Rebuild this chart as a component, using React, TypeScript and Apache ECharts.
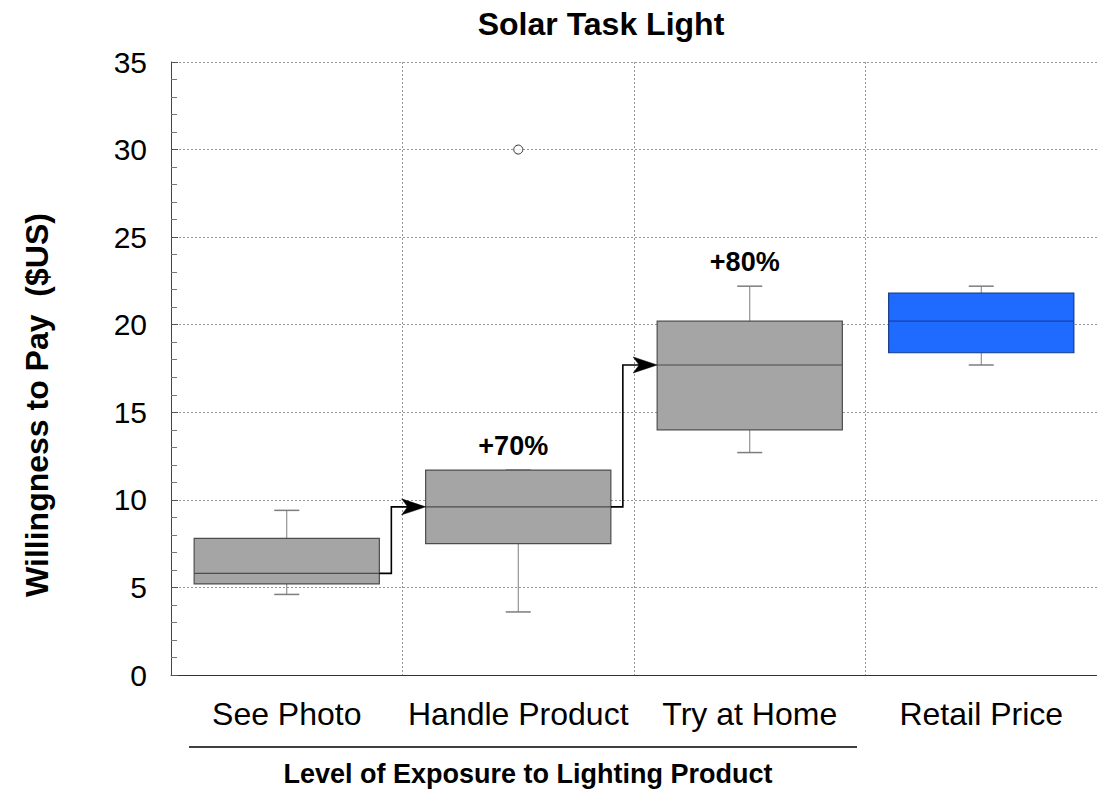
import React, { useEffect, useRef } from 'react';
import * as echarts from 'echarts';

const categories = ['See Photo', 'Handle Product', 'Try at Home', 'Retail Price'];
const whiskerLow = [4.6, 3.6, 12.7, 17.7];
const quartile1 = [5.2, 7.5, 14.0, 18.4];
const medians = [5.8, 9.6, 17.7, 20.2];
const quartile3 = [7.8, 11.7, 20.2, 21.8];
const whiskerHigh = [9.4, 11.7, 22.2, 22.2];
const outlierCats = [1];
const outlierValues = [30];
const changeLabels = ['+70%', '+80%'];
const changeLabelCats = [1, 2];
const changeLabelValues = [13.1, 23.6];
const arrowFrom = [0, 1];
const arrowTo = [1, 2];

const FONT = '"Liberation Sans", Arial, Helvetica, sans-serif';

export default function App() {
  const ref = useRef<HTMLDivElement>(null);
  useEffect(() => {
    if (!ref.current) return;
    const chart = echarts.init(ref.current, null, { renderer: 'svg' });

    const boxData = categories.map((_, i) => [i, whiskerLow[i], quartile1[i], medians[i], quartile3[i], whiskerHigh[i]]);
    const arrowData = arrowFrom.map((f, i) => [f, medians[f], arrowTo[i], medians[arrowTo[i]]]);
    const labelData = changeLabels.map((_, i) => [changeLabelCats[i], changeLabelValues[i], i]);
    const outlierData = outlierCats.map((c, i) => [c, outlierValues[i]]);

    const option: any = {
      animation: false,
      backgroundColor: '#ffffff',
      grid: { left: 171, right: -5, top: 62, bottom: 115, containLabel: false },
      xAxis: {
        type: 'category',
        data: categories,
        boundaryGap: true,
        axisLine: { show: true, lineStyle: { color: '#333', width: 1 } },
        axisTick: { show: false },
        axisLabel: { color: '#000', fontSize: 32, fontFamily: FONT, margin: 23, interval: 0 },
        splitLine: { show: true, lineStyle: { color: '#999', type: [2, 2], width: 1 } },
      },
      yAxis: {
        type: 'value',
        min: 0,
        max: 35,
        interval: 5,
        axisLine: { show: true, lineStyle: { color: '#444', width: 1 } },
        axisTick: { show: true, inside: true, length: 7, lineStyle: { color: '#555' } },
        minorTick: { show: true, splitNumber: 5, length: 6, lineStyle: { color: '#777' } },
        axisLabel: { color: '#000', fontSize: 30, fontFamily: FONT, margin: 24 },
        splitLine: { show: true, lineStyle: { color: '#999', type: [2, 2], width: 1 } },
      },
      graphic: [
        {
          type: 'text',
          x: 601,
          y: 24,
          style: { text: 'Solar Task Light', fontSize: 32, fontWeight: 'bold', fontFamily: FONT, fill: '#000', align: 'center', verticalAlign: 'middle' },
        },
        {
          type: 'text',
          x: 37,
          y: 405,
          rotation: Math.PI / 2,
          style: { text: 'Willingness to Pay  ($US)', fontSize: 32, fontWeight: 'bold', fontFamily: FONT, fill: '#000', align: 'center', verticalAlign: 'middle' },
        },
        {
          type: 'line',
          shape: { x1: 189, y1: 747, x2: 857, y2: 747 },
          style: { stroke: '#000', lineWidth: 1.5 },
        },
        {
          type: 'text',
          x: 528,
          y: 774,
          style: { text: 'Level of Exposure to Lighting Product', fontSize: 27, fontWeight: 'bold', fontFamily: FONT, fill: '#000', align: 'center', verticalAlign: 'middle' },
        },
      ],
      series: [
        {
          type: 'custom',
          data: boxData,
          encode: { x: 0, y: [1, 2, 3, 4, 5] },
          z: 3,
          renderItem: (params: any, api: any) => {
            const idx = api.value(0);
            const cw = api.size([1, 0])[0];
            const half = cw * 0.4;
            const cap = 12.5;
            const pLow = api.coord([idx, api.value(1)]);
            const pQ1 = api.coord([idx, api.value(2)]);
            const pMed = api.coord([idx, api.value(3)]);
            const pQ3 = api.coord([idx, api.value(4)]);
            const pHigh = api.coord([idx, api.value(5)]);
            const cx = pMed[0];
            const retail = idx === 3;
            const fill = retail ? '#1f6bff' : '#a5a5a5';
            const border = retail ? '#143a8c' : '#4d4d4d';
            const medianColor = retail ? '#1a43a0' : '#4d4d4d';
            const whisker = '#7d7d7d';
            return {
              type: 'group',
              children: [
                { type: 'line', shape: { x1: cx, y1: pHigh[1], x2: cx, y2: pQ3[1] }, style: { stroke: whisker, lineWidth: 1 } },
                { type: 'line', shape: { x1: cx, y1: pLow[1], x2: cx, y2: pQ1[1] }, style: { stroke: whisker, lineWidth: 1 } },
                { type: 'line', shape: { x1: cx - cap, y1: pHigh[1], x2: cx + cap, y2: pHigh[1] }, style: { stroke: whisker, lineWidth: 1.5 } },
                { type: 'line', shape: { x1: cx - cap, y1: pLow[1], x2: cx + cap, y2: pLow[1] }, style: { stroke: whisker, lineWidth: 1.5 } },
                {
                  type: 'rect',
                  shape: { x: cx - half, y: pQ3[1], width: half * 2, height: pQ1[1] - pQ3[1] },
                  style: { fill, stroke: border, lineWidth: 1.2 },
                },
                { type: 'line', shape: { x1: cx - half, y1: pMed[1], x2: cx + half, y2: pMed[1] }, style: { stroke: medianColor, lineWidth: 1.2 } },
              ],
            };
          },
        },
        {
          type: 'custom',
          data: arrowData,
          encode: { x: 0, y: 1 },
          z: 4,
          renderItem: (params: any, api: any) => {
            const cw = api.size([1, 0])[0];
            const half = cw * 0.4;
            const p1 = api.coord([api.value(0), api.value(1)]);
            const p2 = api.coord([api.value(2), api.value(3)]);
            const xs = p1[0] + half;
            const xm = xs + 12;
            const xe = p2[0] - half;
            const y2 = p2[1];
            return {
              type: 'group',
              children: [
                {
                  type: 'polyline',
                  shape: { points: [[xs, p1[1]], [xm, p1[1]], [xm, y2], [xe - 10, y2]] },
                  style: { stroke: '#000', lineWidth: 1.6, fill: null },
                },
                {
                  type: 'polygon',
                  shape: { points: [[xe, y2], [xe - 24, y2 - 8], [xe - 18, y2], [xe - 24, y2 + 8]] },
                  style: { fill: '#000', stroke: '#000', lineWidth: 0.5 },
                },
              ],
            };
          },
        },
        {
          type: 'scatter',
          data: outlierData,
          symbol: 'circle',
          symbolSize: 9,
          itemStyle: { color: '#fff', borderColor: '#000', borderWidth: 1 },
          z: 5,
        },
        {
          type: 'custom',
          data: labelData,
          encode: { x: 0, y: 1 },
          z: 5,
          renderItem: (params: any, api: any) => {
            const p = api.coord([api.value(0), api.value(1)]);
            return {
              type: 'text',
              x: p[0] - 5,
              y: p[1],
              style: {
                text: changeLabels[api.value(2)],
                fontSize: 27,
                fontWeight: 'bold',
                fontFamily: FONT,
                fill: '#000',
                align: 'center',
                verticalAlign: 'middle',
              },
            };
          },
        },
      ],
    };
    chart.setOption(option);
    return () => chart.dispose();
  }, []);
  return <div ref={ref} style={{ position: 'fixed', left: 0, top: 0, width: 1097, height: 790, background: '#fff' }} />;
}
